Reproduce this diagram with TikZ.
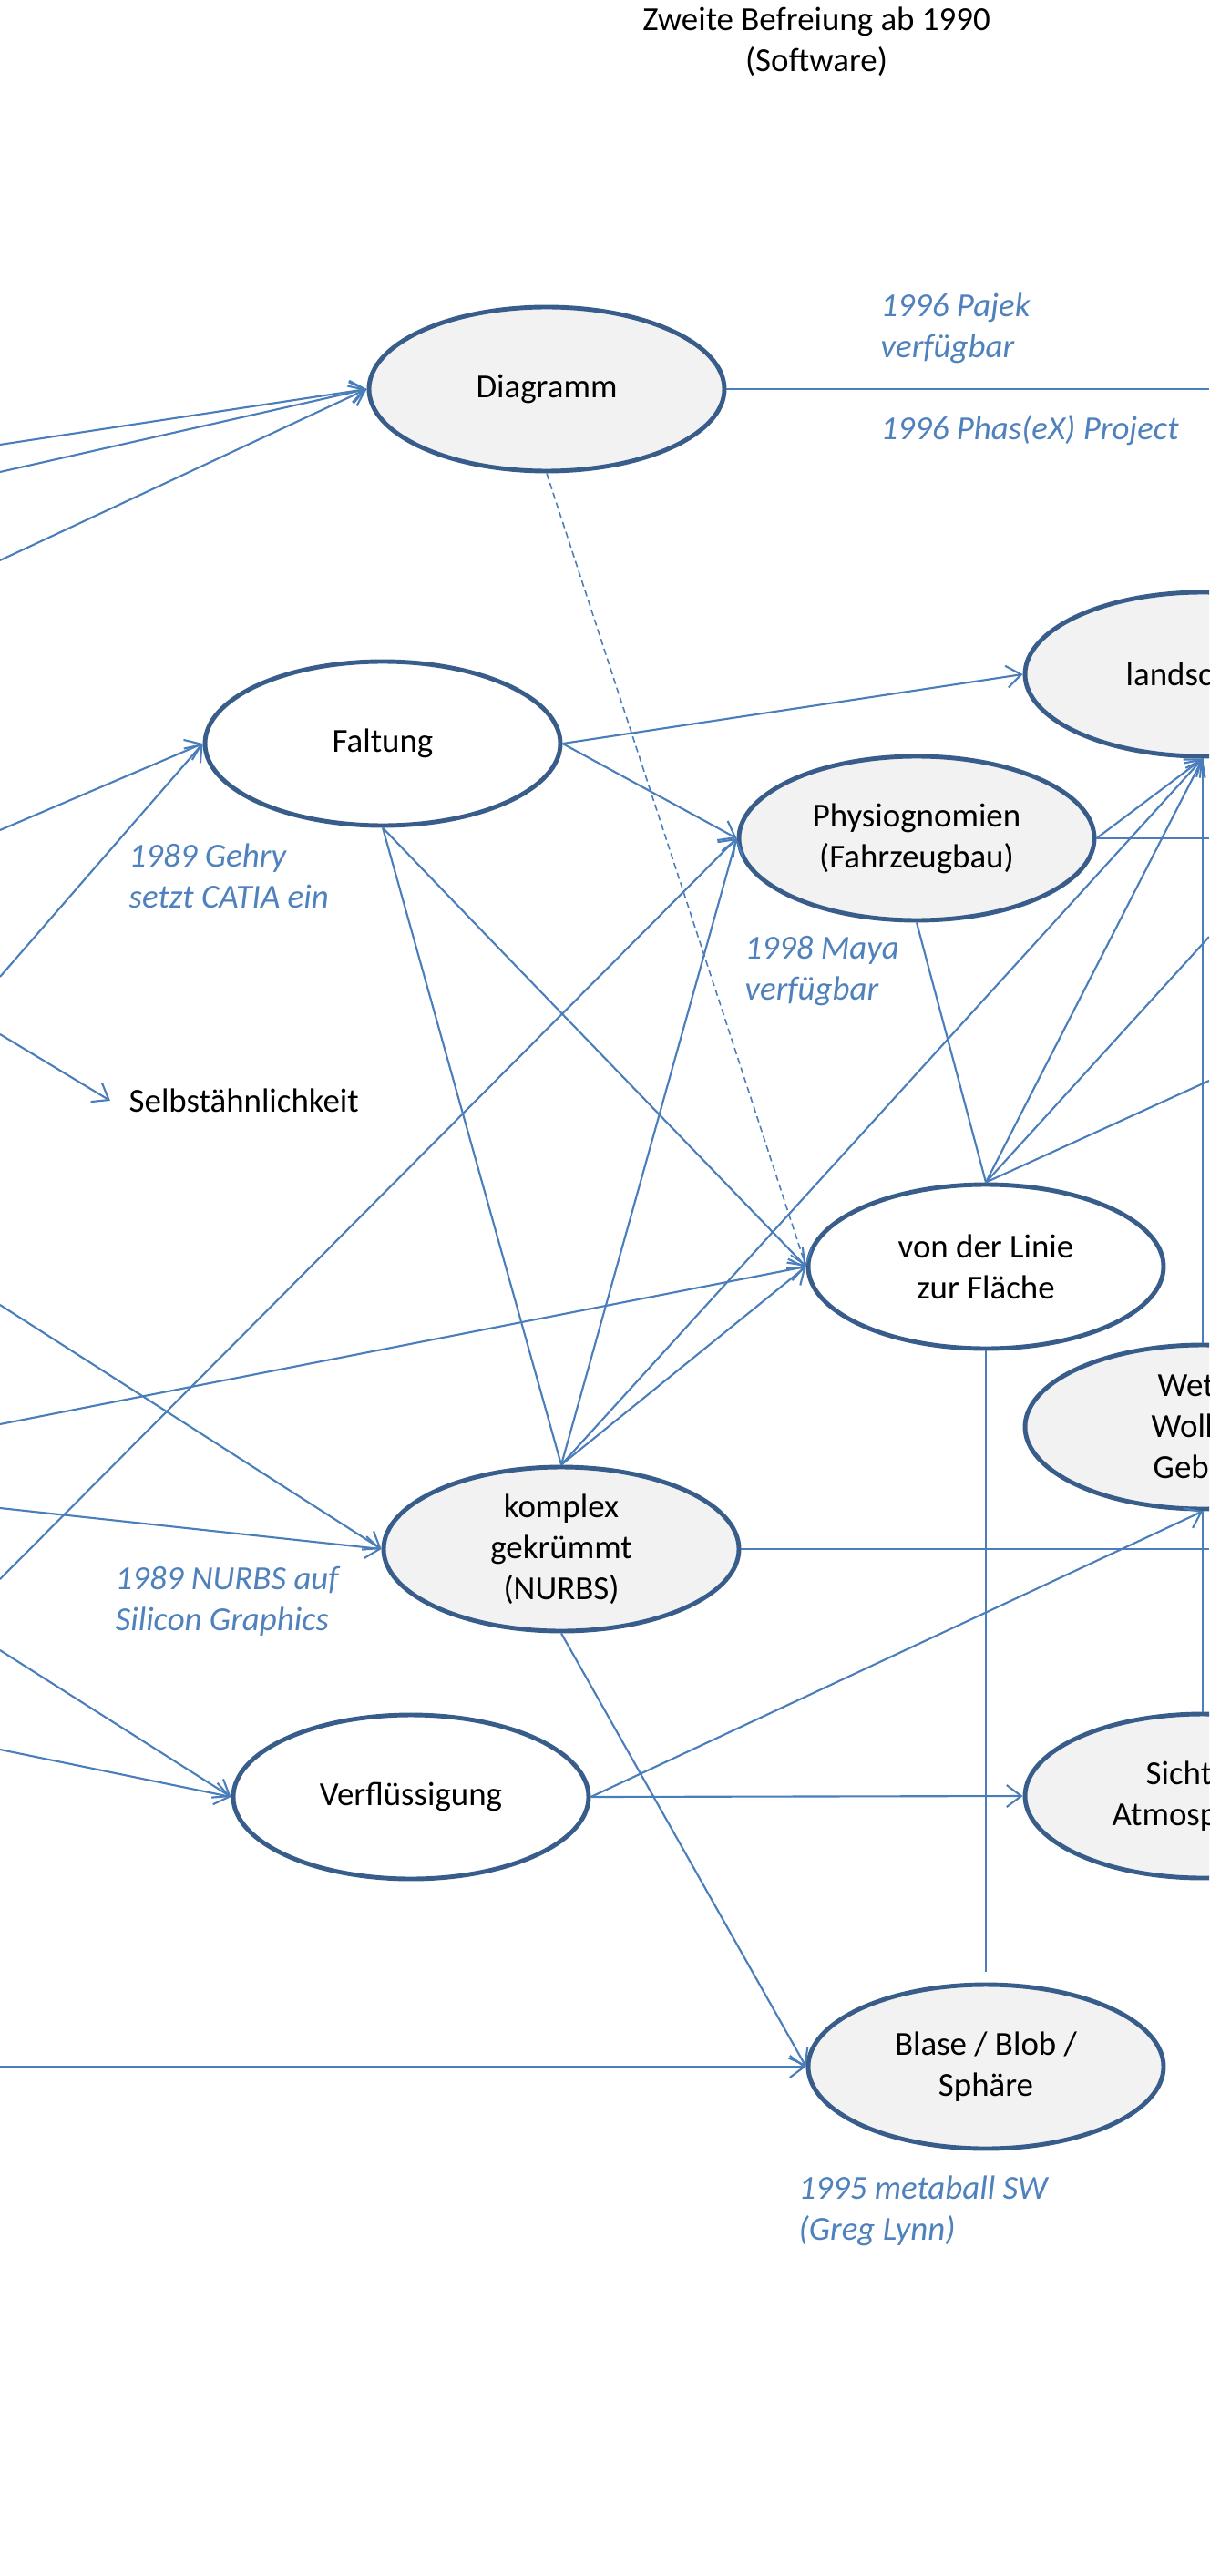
\documentclass[tikz,border=0pt]{standalone}
\usepackage{fontspec}
\setmainfont{Carlito}
\usetikzlibrary{positioning,arrows.meta,shapes.geometric}

\definecolor{linkblue}{RGB}{74,126,187}
\definecolor{rimblue}{RGB}{56,93,138}
\definecolor{noteblue}{RGB}{79,129,189}
\definecolor{ellgray}{RGB}{242,242,242}
\newcommand{\dgfont}{\fontsize{10.5}{12.8}\selectfont}

\begin{document}
\begin{tikzpicture}
	\useasboundingbox (0,0) rectangle (13.27,-28.27);
	\clip (0,0) rectangle (13.27,-28.27);
	\begin{scope}
		\tikzstyle{every node}=[align=center, font=\dgfont]
		\tikzstyle{topic}=[ellipse, draw=rimblue, line width=1.4pt, fill=white, minimum width=3.9cm, minimum height=1.8cm, inner sep=0]
		\tikzstyle{topicg}=[topic, fill=ellgray]
		\tikzstyle{note}=[anchor=west, inner sep=0, align=left, text=noteblue, font=\dgfont\itshape]
		\tikzstyle{cuttext}=[anchor=west, inner sep=0, align=left]
		\tikzstyle{link}=[draw=linkblue, line width=0.6pt]
		\tikzstyle{arr}=[link, -{Straight Barb[length=1.6mm, width=2.4mm]}]

		\node (title) at (8.96, -0.46) {Zweite Befreiung ab 1990\\(Software)};

		\node[topicg] (diag)  at (6.00, -4.27)   {Diagramm};
		\node[topic]  (falt)  at (4.20, -8.16)   {Faltung};
		\node[topicg] (ls)    at (13.20, -7.40)  {};
		\node[topicg] (phys)  at (10.06, -9.20)  {Physiognomien\\(Fahrzeugbau)};
		\node[topic]  (vdl)   at (10.82, -13.90) {von der Linie\\zur Fläche};
		\node[topicg] (wet)   at (13.20, -15.66) {};
		\node[topicg] (nurbs) at (6.16, -17.00)  {komplex\\gekrümmt\\(NURBS)};
		\node[topic]  (verfl) at (4.51, -19.72)  {Verflüssigung};
		\node[topicg] (sicht) at (13.20, -19.71) {};
		\node[topicg] (blase) at (10.82, -22.68) {Blase / Blob /\\Sphäre};

		% texts of the ellipses at the right edge
		\node[cuttext] (lstxt)    at (12.35, -7.40)  {landsc};
		\node[cuttext] (wettxt)   at (12.63, -15.66) {\hspace*{0.07cm}Wet\\Wolk\\\hspace*{0.02cm}Geb};
		\node[cuttext] (sichttxt) at (12.20, -19.71) {\hspace*{0.37cm}Sicht\\Atmosp};

		\node[anchor=west, inner xsep=0.2cm, inner ysep=0] (selbst) at (1.21, -12.08) {Selbstähnlichkeit};

		\node[note] (pajek)  at (9.66, -3.60)  {1996 Pajek\\verfügbar};
		\node[note] (phasex) at (9.66, -4.72)  {1996 Phas(eX) Project};
		\node[note] (gehry)  at (1.41, -9.61)  {1989 Gehry\\setzt CATIA ein};
		\node[note] (maya)   at (8.17, -10.66) {1998 Maya\\verfügbar};
		\node[note] (sgi)    at (1.26, -17.57) {1989 NURBS auf\\Silicon Graphics};
		\node[note] (meta)   at (8.76, -24.26) {1995 metaball SW\\(Greg Lynn)};

		% loose ends at the left and right edge
		\coordinate (l1)  at (0, -4.88);
		\coordinate (l2)  at (0, -5.18);
		\coordinate (l3)  at (0, -6.15);
		\coordinate (l4)  at (0, -9.11);
		\coordinate (l5)  at (0, -10.72);
		\coordinate (l6)  at (0, -11.35);
		\coordinate (l7)  at (0, -14.32);
		\coordinate (l8)  at (0, -15.63);
		\coordinate (l9)  at (0, -16.55);
		\coordinate (l10) at (0, -17.33);
		\coordinate (l11) at (0, -18.11);
		\coordinate (l12) at (0, -19.20);
		\coordinate (l13) at (0, -22.68);
		\coordinate (r1) at (13.27, -4.27);
		\coordinate (r2) at (13.27, -9.20);
		\coordinate (r3) at (13.27, -10.28);
		\coordinate (r4) at (13.27, -11.86);
		\coordinate (r5) at (13.27, -17.00);

		\draw [arr] (l1) to (diag.west);
		\draw [arr] (l2) to (diag.west);
		\draw [arr] (l3) to (diag.west);
		\draw [arr] (l4) to (falt.west);
		\draw [arr] (l5) to (falt.west);
		\draw [arr] (l6) to (selbst.west);
		\draw [arr] (l7) to (nurbs.west);
		\draw [arr] (l8) to (vdl.west);
		\draw [arr] (l9) to (nurbs.west);
		\draw [arr] (l10) to (phys.west);
		\draw [arr] (l11) to (verfl.west);
		\draw [arr] (l12) to (verfl.west);
		\draw [arr] (l13) to (blase.west);

		\draw [link] (diag.east) to (r1);
		\draw [arr, line width=0.45pt, dash pattern=on 2pt off 1.2pt] (diag.south) to (vdl.west);

		\draw [arr] (falt.east) to (ls.west);
		\draw [arr] (falt.east) to (phys.west);
		\draw [arr] (falt.south) to (vdl.west);
		\draw [link] (falt.south) to (nurbs.north);

		\draw [arr] (nurbs.north) to (phys.west);
		\draw [arr] (nurbs.north) to (ls.south);
		\draw [arr] (nurbs.north) to (vdl.west);
		\draw [link] (nurbs.east) to (r5);
		\draw [arr] (nurbs.south) to (blase.west);

		\draw [arr] (phys.east) to (ls.south);
		\draw [link] (phys.east) to (r2);
		\draw [link] (phys.south) to (vdl.north);

		\draw [arr] (vdl.north) to (ls.south);
		\draw [link] (vdl.north) to (r3);
		\draw [link] (vdl.north) to (r4);
		\draw [link, shorten >=0.12cm] (vdl.south) to (blase.north);

		\draw [link] (ls.south) to (wet.north);
		\draw [link] (wet.south) to (sicht.north);

		\draw [arr] (verfl.east) to (sicht.west);
		\draw [arr] (verfl.east) to (wet.south);
	\end{scope}
\end{tikzpicture}
\end{document}
